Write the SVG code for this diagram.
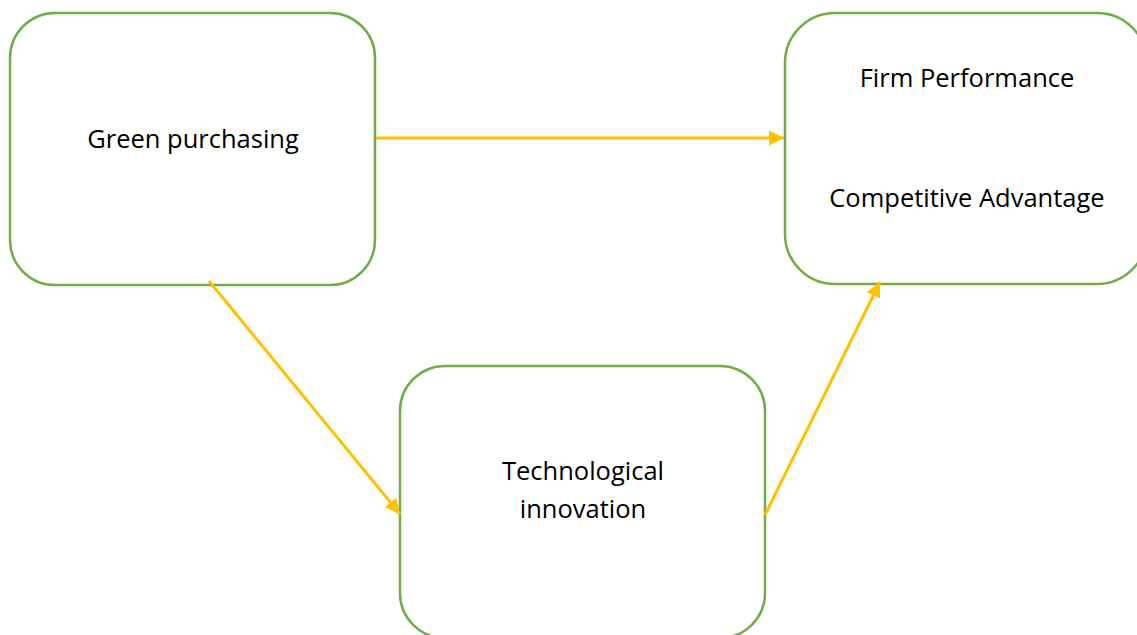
<svg xmlns="http://www.w3.org/2000/svg" width="1137" height="635" viewBox="0 0 1137 635">
<style>
.box{fill:#fff;stroke:#70AD47;stroke-width:2.5}
.lbl{font-family:"Open Sans","Noto Sans",sans-serif;font-size:25.5px;fill:#000;text-anchor:middle}
.conn{stroke:#FFC000;stroke-width:3;fill:none}
</style>
<defs>
<marker id="ah" viewBox="0 0 10 10" refX="10" refY="5" markerWidth="5" markerHeight="5" orient="auto" markerUnits="strokeWidth">
<path d="M0,0 L10,5 L0,10 z" fill="#FFC000"/>
</marker>
</defs>
<rect width="1137" height="635" fill="#fff"/>
<g id="green-purchasing">
<rect class="box" x="10" y="13" width="365" height="272" rx="45" ry="45"/>
<text class="lbl" x="193" y="148">Green purchasing</text>
</g>
<g id="firm-performance">
<rect class="box" x="785" y="13" width="362" height="271" rx="50" ry="50"/>
<text class="lbl" x="967" y="87">Firm Performance</text>
<text class="lbl" x="967" y="207">Competitive Advantage</text>
</g>
<g id="technological-innovation">
<rect class="box" x="400" y="366" width="365" height="272" rx="45" ry="45"/>
<text class="lbl" x="583" y="480">Technological</text>
<text class="lbl" x="583" y="518">innovation</text>
</g>
<g id="connectors">
<line class="conn" x1="376" y1="138" x2="784" y2="138" marker-end="url(#ah)"/>
<line class="conn" x1="209" y1="281" x2="400" y2="514" marker-end="url(#ah)"/>
<line class="conn" x1="765" y1="515" x2="880" y2="282" marker-end="url(#ah)"/>
</g>
</svg>
